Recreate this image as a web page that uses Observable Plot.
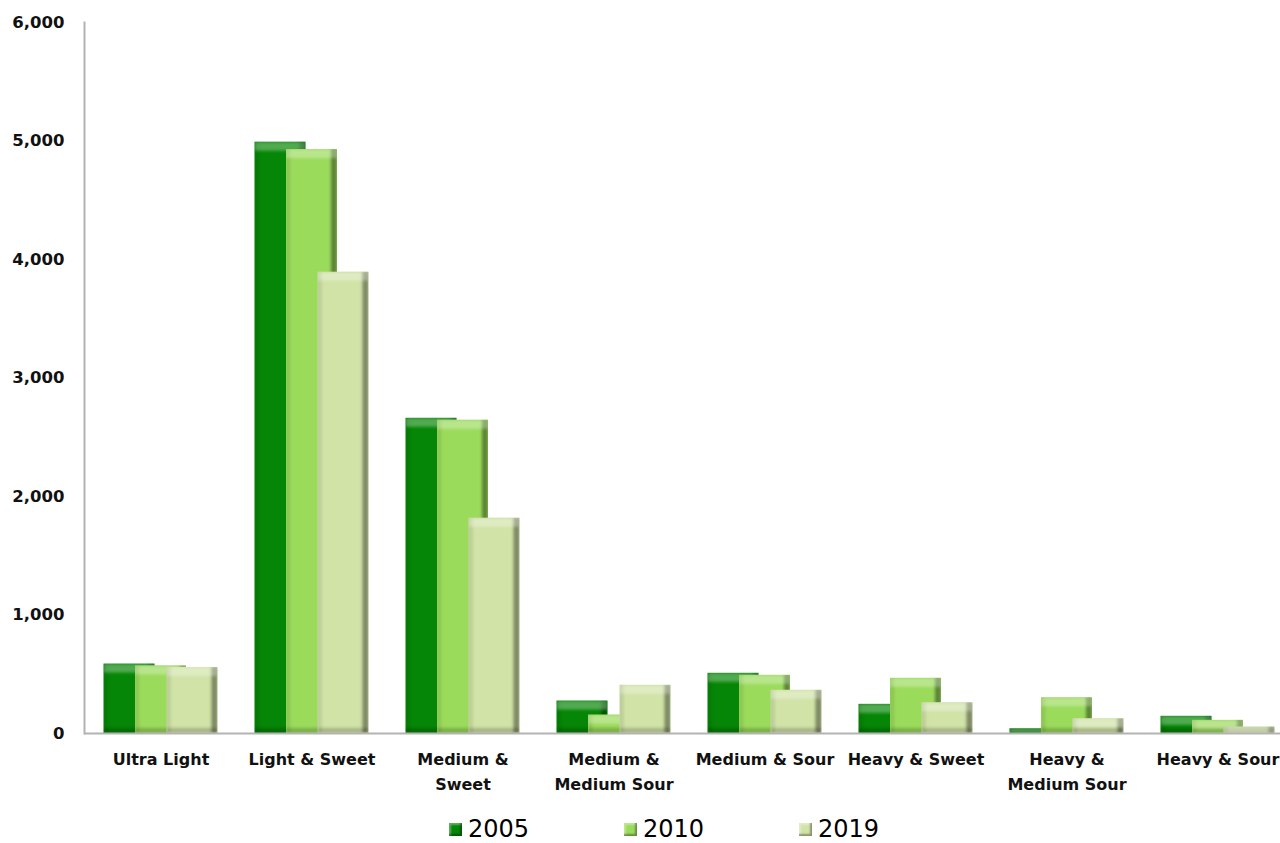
<!DOCTYPE html>
<html>
<head>
<meta charset="utf-8">
<script src="https://cdn.jsdelivr.net/npm/d3@7"></script>
<script src="https://cdn.jsdelivr.net/npm/@observablehq/plot@0.6"></script>
<style>
  html, body { margin: 0; padding: 0; background: #fff; }
  #chart { position: relative; width: 1280px; }
  #legend { position: relative; height: 43px; font-family: "DejaVu Sans", sans-serif; font-size: 24px; color: #000; }
  .item { position: absolute; top: 15px; display: flex; align-items: center; }
  .sw { width: 13px; height: 13px; margin-right: 6px; box-shadow: inset -2px -2px 2px rgba(0,0,0,0.35), inset 2px 2px 2px rgba(255,255,255,0.35); }
</style>
</head>
<body>
<div id="chart"></div>
<div id="legend"></div>
<script>
const categories = ["Ultra Light", "Light & Sweet", "Medium & Sweet", "Medium & Medium Sour", "Medium & Sour", "Heavy & Sweet", "Heavy & Medium Sour", "Heavy & Sour"];
const tickLabels = ["Ultra Light", "Light & Sweet", "Medium &\nSweet", "Medium &\nMedium Sour", "Medium & Sour", "Heavy & Sweet", "Heavy &\nMedium Sour", "Heavy & Sour"];
const years = ["2005", "2010", "2019"];
const colors = ["#068606", "#9bdb5c", "#d1e3a7"];
const v2005 = [586, 4990, 2660, 274, 508, 246, 40, 145];
const v2010 = [571, 4928, 2644, 156, 491, 466, 302, 111];
const v2019 = [557, 3893, 1817, 407, 365, 260, 125, 55];
const yTicks = [0, 1000, 2000, 3000, 4000, 5000, 6000];

const series = [v2005, v2010, v2019];
const rows = years.flatMap((yr, j) => categories.map((c, i) => ({category: c, year: yr, value: series[j][i]})));
const labelOf = new Map(categories.map((c, i) => [c, tickLabels[i]]));
const offsets = [-31.5, 0, 31.5];

const plot = Plot.plot({
  width: 1280,
  height: 800,
  marginTop: 22,
  marginBottom: 67,
  marginLeft: 84,
  marginRight: 0,
  style: {fontFamily: "DejaVu Sans, sans-serif", overflow: "visible", background: "#fff"},
  x: {type: "band", domain: categories, range: [84, 1293], paddingInner: 0.6625, paddingOuter: 0.331, align: 0.5},
  y: {domain: [0, 6000]},
  color: {domain: years, range: colors},
  marks: [
    Plot.frame({anchor: "left", stroke: "#b3b3b3", strokeWidth: 2}),
    ...years.map((yr, j) => Plot.barY(rows.filter(d => d.year === yr), {
      x: "category", y: "value", fill: "year", dx: offsets[j]
    })),
    Plot.ruleY([0], {stroke: "#b3b3b3", strokeWidth: 2}),
    Plot.axisY({ticks: yTicks, tickSize: 0, tickPadding: 20, tickFormat: d3.format(","), fontWeight: "bold", fontSize: 16.5, label: null, fill: "#111"}),
    Plot.axisX({tickSize: 0, tickPadding: 14, tickFormat: d => labelOf.get(d), fontWeight: "bold", fontSize: 16, lineHeight: 1.55, label: null, fill: "#111"})
  ]
});

// bevel effect
const svg = d3.select(plot);
const defs = svg.insert("defs", ":first-child");
const f = defs.append("filter").attr("id", "bevel").attr("x", "-2%").attr("y", "-2%").attr("width", "104%").attr("height", "104%").attr("color-interpolation-filters", "sRGB");
function band(name, dx, dy) {
  f.append("feOffset").attr("in", "SourceAlpha").attr("dx", dx).attr("dy", dy).attr("result", name + "S");
  f.append("feComposite").attr("in", "SourceAlpha").attr("in2", name + "S").attr("operator", "out").attr("result", name + "B0");
  f.append("feGaussianBlur").attr("in", name + "B0").attr("stdDeviation", 1.5).attr("result", name + "B1");
  f.append("feComposite").attr("in", name + "B1").attr("in2", "SourceAlpha").attr("operator", "in").attr("result", name + "B");
}
function tint(name, color, op) {
  f.append("feFlood").attr("flood-color", color).attr("flood-opacity", op).attr("result", name + "F");
  f.append("feComposite").attr("in", name + "F").attr("in2", name + "B").attr("operator", "in").attr("result", name + "T");
}
band("top", 0, 9); band("right", -6, 0); band("bot", 0, -5); band("left", 4, 0);
tint("top", "#fff", 0.3); tint("right", "#000", 0.4); tint("bot", "#000", 0.2); tint("left", "#000", 0.1);
const m = f.append("feMerge");
["SourceGraphic", "leftT", "botT", "rightT", "topT"].forEach(n => m.append("feMergeNode").attr("in", n));
svg.selectAll('g[aria-label="bar"]').attr("filter", "url(#bevel)");

document.getElementById("chart").appendChild(plot);

// legend
const legend = d3.select("#legend");
const legendLeft = [449, 624, 799];
years.forEach((yr, j) => {
  const it = legend.append("div").attr("class", "item").style("left", legendLeft[j] + "px");
  it.append("div").attr("class", "sw").style("background", colors[j]);
  it.append("span").text(yr);
});
</script>
</body>
</html>
